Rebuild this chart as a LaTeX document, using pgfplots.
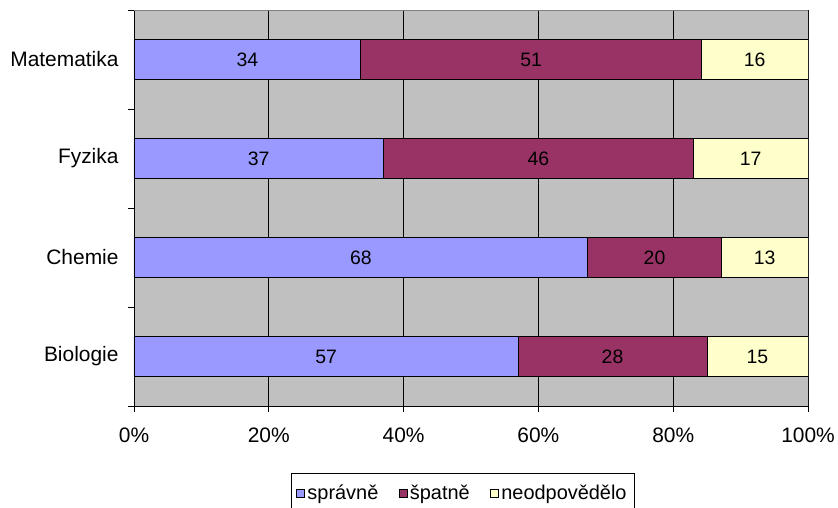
\documentclass[border=0pt]{standalone}
\usepackage{fontspec}
\setmainfont{Liberation Sans}
\usepackage{pgfplots}
\usepackage{pgfplotstable}
\pgfplotsset{compat=1.18}
\usetikzlibrary{calc}

\definecolor{spravne}{HTML}{9999FF}
\definecolor{spatne}{HTML}{993366}
\definecolor{neodp}{HTML}{FFFFCC}
\definecolor{plotbg}{HTML}{C0C0C0}
\definecolor{framegray}{HTML}{808080}

% answers per subject: correct, wrong, no answer
\pgfplotstableread{
y cat        spravne spatne neodp
0 Biologie   57      28     15
1 Chemie     68      20     13
2 Fyzika     37      46     17
3 Matematika 34      51     16
}\odpovedi

\newcommand{\chartfont}{\fontsize{19.5}{22}\selectfont}
\newcommand{\tickfont}{\fontsize{21}{24}\selectfont}
\newcommand{\legendfont}{\fontsize{20}{23}\selectfont}

% one segment of a 100% stacked bar: share of the row total, labelled with the raw count
\pgfplotsset{
  segment/.style={
    fill=#1, draw=black, line width=0.8bp,
    point meta=\thisrow{#1},
  },
}

\begin{document}
\begin{tikzpicture}
\begin{axis}[
  scale only axis,
  width=674bp, height=396bp,
  xbar stacked, bar width=40bp,
  xmin=0, xmax=100, ymin=-0.5, ymax=3.5,
  axis background/.style={fill=plotbg},
  axis line style={black, line width=0.8bp},
  tick pos=left, tick align=outside,
  major tick length=6bp, minor tick length=6bp,
  tick style={black, line width=0.8bp},
  xtick={0,20,40,60,80,100},
  xticklabels={0\%,20\%,40\%,60\%,80\%,100\%},
  ytick={0,1,2,3},
  yticklabels={Biologie,Chemie,Fyzika,Matematika},
  minor ytick={-0.5,0.5,1.5,2.5,3.5},
  major y tick style={draw=none},
  xmajorgrids, major grid style={black, line width=0.8bp},
  tick label style={font=\tickfont, text=black},
  xticklabel style={yshift=-12bp},
  yticklabel style={xshift=-6bp},
  nodes near coords={\pgfmathprintnumber[assume math mode=true]{\pgfplotspointmeta}},
  nodes near coords align=center,
  every node near coord/.append style={anchor=center, font=\chartfont, text=black},
  legend columns=3,
  legend style={
    at={(0.2329,-0.169)}, anchor=north west,
    draw=black, line width=0.8bp, fill=white,
    font=\legendfont, inner xsep=5bp, inner ysep=10bp,
    nodes={inner xsep=2.5bp, inner ysep=2bp},
    /tikz/every odd column/.append style={column sep=0bp},
    /tikz/every even column/.append style={column sep=18bp},
  },
  legend image code/.code={
    \draw[#1, draw=black, line width=0.6bp] (0bp,-4bp) rectangle (8bp,4bp);
  },
]
\addplot[segment=spravne] table[x expr={\thisrow{spravne}/(\thisrow{spravne}+\thisrow{spatne}+\thisrow{neodp})*100}, y=y] {\odpovedi};
\addplot[segment=spatne] table[x expr={\thisrow{spatne}/(\thisrow{spravne}+\thisrow{spatne}+\thisrow{neodp})*100}, y=y] {\odpovedi};
\addplot[segment=neodp] table[x expr={\thisrow{neodp}/(\thisrow{spravne}+\thisrow{spatne}+\thisrow{neodp})*100}, y=y] {\odpovedi};
\legend{správně, špatně, neodpovědělo}
% plot-area frame: grey on top and right
\draw[framegray, line width=0.8bp] (rel axis cs:0,1) -- (rel axis cs:1,1) -- (rel axis cs:1,0);
\end{axis}
\pgfresetboundingbox
\useasboundingbox ($(current axis.south west)+(-134bp,-102bp)$) rectangle ($(current axis.north east)+(30bp,10bp)$);
\end{tikzpicture}
\end{document}
